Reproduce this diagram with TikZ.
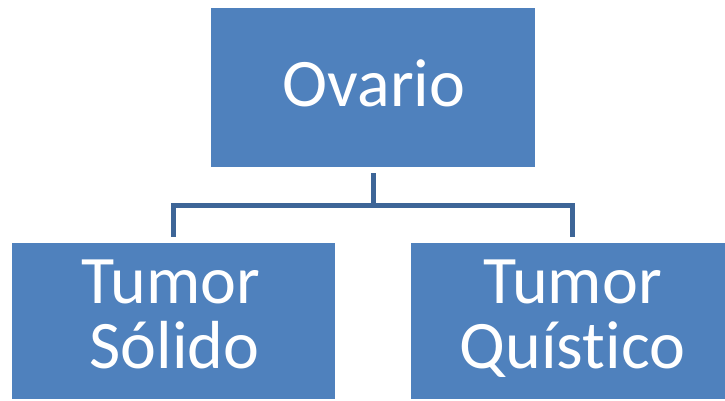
\documentclass[tikz,border=0pt]{standalone}
\usepackage{fontspec}
\setmainfont[Ligatures={NoCommon,NoContextual},RawFeature={-liga;-clig;-dlig}]{Carlito}
\definecolor{boxblue}{HTML}{4F81BD}
\definecolor{linkblue}{HTML}{3D6597}
\begin{document}
\begin{tikzpicture}[x=1pt,y=-1pt,
  box/.style={draw=none,fill=boxblue,rectangle,inner sep=0pt},
  label/.style={text=white,anchor=base,inner sep=0pt,font=\fontsize{68}{65}\selectfont},
  conn/.style={draw=linkblue,line width=5pt,shorten <=6pt,shorten >=6pt}]
\useasboundingbox (0,0) rectangle (725,401);
\node[box,minimum width=324pt,minimum height=159pt] (top) at (373,87.5) {};
\node[box,minimum width=323pt,minimum height=156pt] (left) at (173.5,321) {};
\node[box,minimum width=323pt,minimum height=156pt] (right) at (572.5,321) {};
\node[label] (t1) at (374,106.5) {Ovario};
\node[label] (t2) at (171,303.5) {Tumor};
\node[label] (t3) at (174.5,368.5) {Sólido};
\node[label] (t4) at (572.5,303.5) {Tumor};
\node[label] (t5) at (572.5,368.5) {Quíst\kern0pt ico};
\coordinate (hub) at (373,205.5);
\draw[conn,shorten >=0pt] (top.south) -- (hub);
\draw[conn,shorten <=0pt] (hub) -| (left.north);
\draw[conn,shorten <=0pt] (hub) -| (right.north);
\end{tikzpicture}
\end{document}
